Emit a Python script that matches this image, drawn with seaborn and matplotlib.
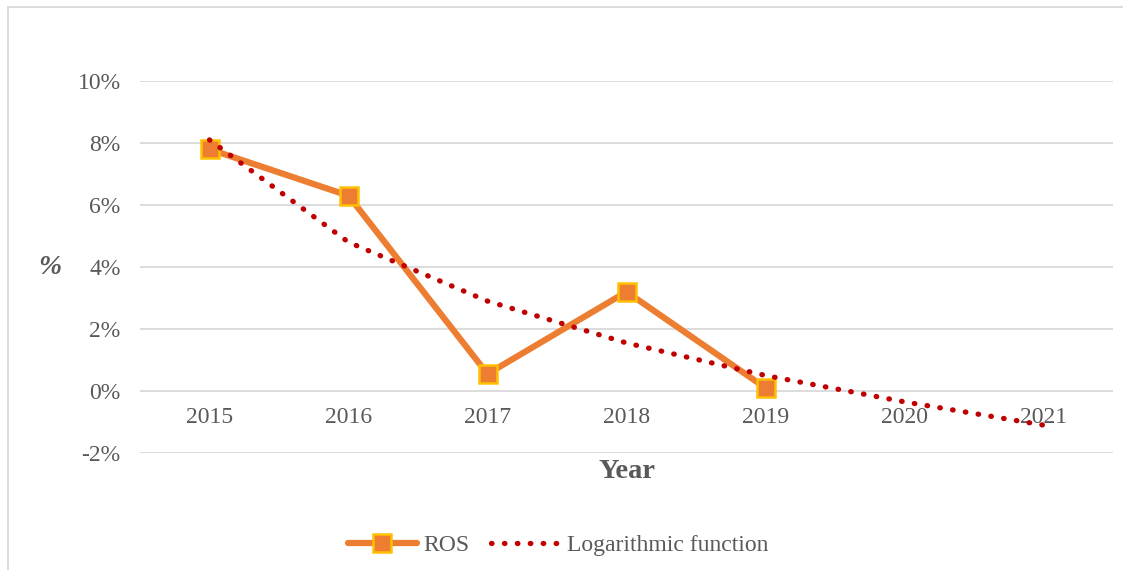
import matplotlib
matplotlib.use("Agg")
import matplotlib.pyplot as plt
import seaborn as sns
import pandas as pd
from matplotlib.patches import Rectangle
from matplotlib.lines import Line2D

# data
years = ["2015", "2016", "2017", "2018", "2019", "2020", "2021"]
ros = [7.8, 6.3, 0.55, 3.2, 0.1]
log_trend = [8.1, 4.8, 2.9, 1.55, 0.5, -0.35, -1.1]
y_ticks = [-2, 0, 2, 4, 6, 8, 10]

df_ros = pd.DataFrame({"x": range(len(ros)), "val": ros})
df_log = pd.DataFrame({"x": range(len(log_trend)), "val": log_trend})

sns.set_style("white")
plt.rcParams['font.family'] = ['Liberation Serif', 'DejaVu Serif']

txt = "#595959"
orange = "#ED7D31"
gold = "#FFC000"
red = "#C00000"
dots = (0, (0.1, 2.35))

fig = plt.figure(figsize=(11.23, 5.70), dpi=100)
ax = fig.add_axes([140 / 1123, 1 - 453 / 570, (1113 - 140) / 1123, (453 - 81) / 570])

for v in y_ticks:
    ax.axhline(v, color="#D9D9D9", lw=1.3, zorder=0)

sns.lineplot(data=df_ros, x="x", y="val", ax=ax, color=orange, lw=4.5,
             marker="s", markersize=12.5, markerfacecolor=orange,
             markeredgecolor=gold, markeredgewidth=1.8, zorder=3)
sns.lineplot(data=df_log, x="x", y="val", ax=ax, color=red, lw=3.8,
             linestyle=dots, dash_capstyle="round", zorder=4)

ax.set_xlim(-0.5, len(years) - 0.5)
ax.set_ylim(-2, 10)
ax.set_yticks(y_ticks)
ax.set_yticklabels([f"{v}%" for v in y_ticks], color=txt, fontsize=17)
ax.tick_params(axis="y", length=0, pad=14)
ax.set_xticks([])
ax.set_xlabel("")
ax.set_ylabel("")
for s in ax.spines.values():
    s.set_visible(False)

for i, yr in enumerate(years):
    ax.text(i, -0.87, yr, ha="center", va="center", color=txt, fontsize=17)

fig.text(627 / 1123, 1 - 472 / 570, "Year", ha="center", va="center",
         color=txt, fontsize=20.5, fontweight="bold")
fig.text(50 / 1123, 1 - 268 / 570, "%", ha="center", va="center",
         color=txt, fontsize=20, fontweight="bold", style="italic")

handles = [
    Line2D([], [], color=orange, lw=4.5, marker="s", markersize=12.5,
           markerfacecolor=orange, markeredgecolor=gold, markeredgewidth=1.8),
    Line2D([], [], color=red, lw=3.8, linestyle=dots, dash_capstyle="round"),
]
leg = fig.legend(handles, ["ROS", "Logarithmic function"], loc="center",
                 bbox_to_anchor=(558 / 1123, 1 - 545 / 570), ncol=2, frameon=False,
                 fontsize=17, handlelength=2.9, columnspacing=0.9, handletextpad=0.3)
for t in leg.get_texts():
    t.set_color(txt)

fig.patches.append(Rectangle((8 / 1123, -0.1), 1.2, 1 - 7 / 570 + 0.1,
                             transform=fig.transFigure, fill=False,
                             edgecolor="#D9D9D9", lw=1.3))

fig.savefig("out.png", dpi=100, facecolor="white")
